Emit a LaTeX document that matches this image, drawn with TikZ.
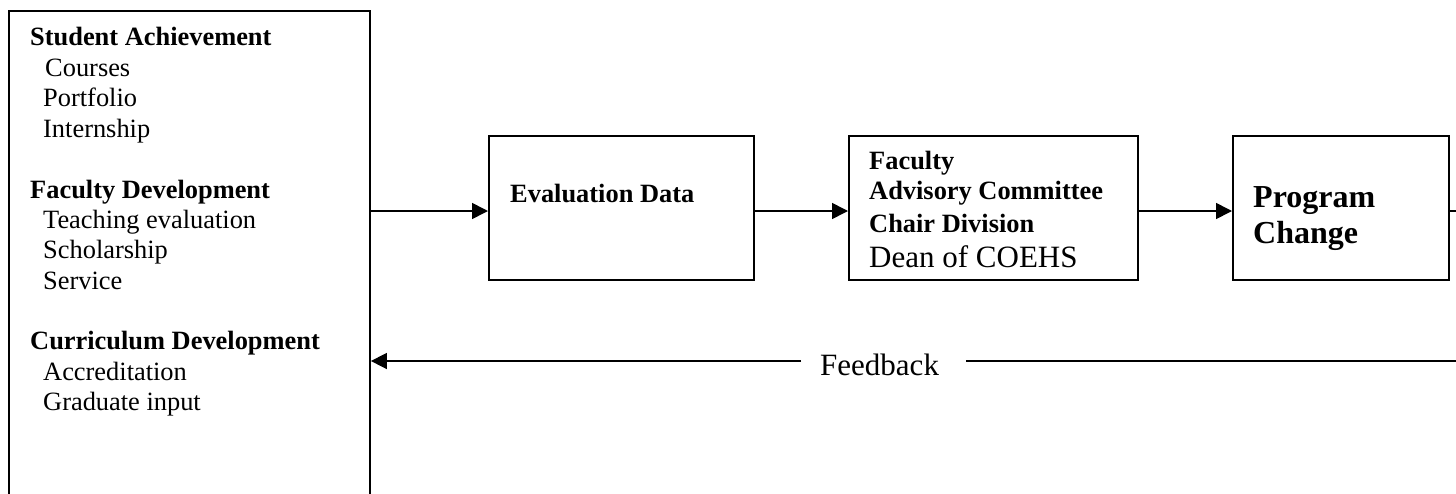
\documentclass[tikz,border=0pt]{standalone}
\usepackage{fontspec}
\setmainfont{Liberation Serif}
\usetikzlibrary{arrows.meta}
\tikzset{
  boxline/.style={draw=black, line width=1.6pt, inner sep=0pt},
  txt/.style={anchor=base west, inner sep=0pt, font=\fontsize{26.4}{30}\selectfont},
  btxt/.style={txt, font=\fontsize{26.4}{30}\selectfont\bfseries},
  bigtxt/.style={txt, font=\fontsize{31}{36}\selectfont},
  bigbtxt/.style={txt, font=\fontsize{32}{36}\selectfont\bfseries},
  conn/.style={line width=1.6pt},
  arr/.style={conn, -{Triangle[length=16pt,width=16pt]}}
}
\begin{document}
\begin{tikzpicture}[x=1pt,y=-1pt]
\useasboundingbox (0,0) rectangle (1456,493);
% boxes
\node[boxline, anchor=north west, minimum width=361pt, minimum height=520pt] (left) at (8.3,10) {};
\node[boxline, anchor=north west, minimum width=265pt, minimum height=144pt] (eval) at (488,135) {};
\node[boxline, anchor=north west, minimum width=289pt, minimum height=144pt] (fac) at (848,135) {};
\node[boxline, anchor=north west, minimum width=216pt, minimum height=144pt] (prog) at (1232,135) {};
% left box text
\node[btxt] (sa) at (30,45.7) {Student Achievement};
\node[txt] (sa1) at (45,76) {Courses};
\node[txt] (sa2) at (43,106.5) {Portfolio};
\node[txt] (sa3) at (43,137) {Internship};
\node[btxt] (fd) at (30,198) {Faculty Development};
\node[txt] (fd1) at (43,228) {Teaching evaluation};
\node[txt] (fd2) at (43,258.5) {Scholarship};
\node[txt] (fd3) at (43,289) {Service};
\node[btxt] (cd) at (30,349.5) {Curriculum Development};
\node[txt] (cd1) at (43,380) {Accreditation};
\node[txt] (cd2) at (43,410.5) {Graduate input};
% other texts
\node[btxt] (evt) at (510,202) {Evaluation Data};
\node[btxt] (f1) at (869,169) {Faculty};
\node[btxt] (f2) at (869,199) {Advisory Committee};
\node[btxt] (f3) at (869,232) {Chair Division};
\node[bigtxt] (f4) at (869,267) {Dean of COEHS};
\node[bigbtxt] (p1) at (1253,207) {Program};
\node[bigbtxt] (p2) at (1253,243) {Change};
\node[bigtxt] (fb) at (820,375) {Feedback};
% connector rows
\coordinate (row) at (0,211);
\coordinate (frow) at (0,361);
\coordinate (rEnd) at (1462,211);
\coordinate (fEnd) at (1462,361);
% connectors
\draw[arr] (left.east |- row) -- (eval.west |- row);
\draw[arr] (eval.east |- row) -- (fac.west |- row);
\draw[arr] (fac.east |- row) -- (prog.west |- row);
\draw[conn] (prog.east |- row) -- (rEnd);
\draw[conn] (fEnd) -- ([xshift=27pt]fb.base east |- frow);
\draw[arr] ([xshift=-19pt]fb.base west |- frow) -- (left.east |- frow);
\end{tikzpicture}
\end{document}
